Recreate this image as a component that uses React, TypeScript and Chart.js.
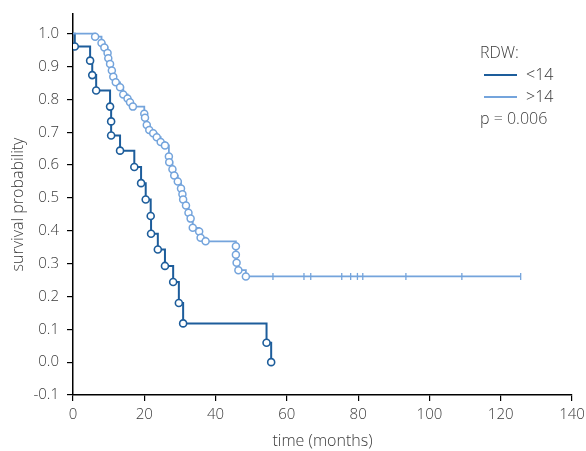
import React, { useEffect, useRef } from "react";
import { Chart, registerables } from "chart.js";
Chart.register(...registerables);

// RDW < 14 group (dark)
const lowTimes = [0, 0.5, 4.8, 5.4, 6.5, 10.4, 10.7, 10.7, 13.2, 17.2, 19.1, 20.4, 21.8, 21.9, 23.8, 25.8, 28.1, 29.7, 30.9, 54.3, 55.6];
const lowSurv = [1.0, 0.961, 0.918, 0.874, 0.827, 0.778, 0.733, 0.69, 0.644, 0.594, 0.545, 0.495, 0.445, 0.391, 0.343, 0.293, 0.244, 0.18, 0.118, 0.059, 0.0];

// RDW > 14 group (light)
const highTimes = [0, 6.2, 8.0, 8.8, 9.7, 9.9, 10.4, 10.9, 11.3, 12.0, 13.2, 14.1, 15.3, 16.0, 16.8,
  20.0, 20.2, 20.7, 21.4, 22.5, 23.5, 24.6, 25.8, 26.9, 27.0, 27.9, 28.4, 29.4, 30.3, 30.7, 30.9, 31.7, 32.4, 33.0, 33.6, 35.4, 35.8, 37.2,
  45.7, 45.7, 45.9, 46.4, 48.5, 125.6];
const highSurv = [1.0, 0.991, 0.972, 0.958, 0.941, 0.925, 0.908, 0.888, 0.869, 0.852, 0.837, 0.815, 0.803, 0.791, 0.778,
  0.756, 0.744, 0.722, 0.707, 0.697, 0.685, 0.67, 0.66, 0.626, 0.609, 0.587, 0.568, 0.55, 0.529, 0.511, 0.495, 0.477, 0.455, 0.437, 0.409, 0.398, 0.379, 0.368,
  0.353, 0.327, 0.303, 0.28, 0.261, 0.261];

// censored observations on the > 14 curve
const censorTimes = [56.1, 64.8, 66.7, 75.4, 77.9, 79.8, 81.3, 93.4, 109.1, 125.6];
const censorSurv = [0.261, 0.261, 0.261, 0.261, 0.261, 0.261, 0.261, 0.261, 0.261, 0.261];

const xTicks = [0, 20, 40, 60, 80, 100, 120, 140];
const yTicks = [-0.1, 0.0, 0.1, 0.2, 0.3, 0.4, 0.5, 0.6, 0.7, 0.8, 0.9, 1.0];

const legendTitle = "RDW:";
const legendLabels = ["<14", ">14"];
const pText = "p = 0.006";

const DARK = "#1d5d9b";
const LIGHT = "#74a4dc";
const TEXT = "#3a3a3a";
const FONT = "'Open Sans', sans-serif";
const WEIGHT = 300;

export default function App() {
  const ref = useRef<HTMLCanvasElement | null>(null);
  useEffect(() => {
    if (!ref.current) return;
    const lowData = lowTimes.map((t, i) => ({ x: t, y: lowSurv[i] }));
    const highData = highTimes.map((t, i) => ({ x: t, y: highSurv[i] }));
    const censData = censorTimes.map((t, i) => ({ x: t, y: censorSurv[i] }));
    const chart = new Chart(ref.current, {
      type: "scatter",
      data: {
        datasets: [
          {
            data: highData,
            showLine: true,
            stepped: "before",
            borderColor: LIGHT,
            borderWidth: 1.8,
            pointBackgroundColor: "#ffffff",
            pointBorderColor: LIGHT,
            pointBorderWidth: 1.5,
            pointRadius: highData.map((_, i) => (i === 0 || i === highData.length - 1 ? 0 : 3.5)),
          },
          {
            data: censData,
            showLine: false,
            pointStyle: "line",
            pointRotation: 90,
            pointRadius: 3.5,
            pointBorderWidth: 1.3,
            pointBorderColor: LIGHT,
            borderColor: LIGHT,
          },
          {
            data: lowData,
            showLine: true,
            stepped: "before",
            borderColor: DARK,
            borderWidth: 2,
            pointBackgroundColor: "#ffffff",
            pointBorderColor: DARK,
            pointBorderWidth: 1.6,
            pointRadius: lowData.map((_, i) => (i === 0 ? 0 : 3.5)),
          },
        ],
      },
      options: {
        animation: false,
        responsive: true,
        maintainAspectRatio: false,
        layout: { padding: { top: 14, right: 14, left: 0, bottom: 0 } },
        plugins: { legend: { display: false }, tooltip: { enabled: false } },
        scales: {
          x: {
            type: "linear",
            min: 0,
            max: 140,
            afterBuildTicks: (s: any) => {
              s.ticks = xTicks.map((v) => ({ value: v }));
            },
            afterFit: (s: any) => {
              s.height = 56;
              s.paddingLeft = 0;
              s.paddingRight = 0;
            },
            grid: { display: true, drawOnChartArea: false, drawTicks: true, tickLength: 6, color: "#000", lineWidth: 1.2 },
            border: { display: true, color: "#000", width: 1.5 },
            ticks: { color: TEXT, font: { family: FONT, size: 15, weight: WEIGHT }, padding: 5, maxRotation: 0 },
            title: { display: true, text: "time (months)", color: TEXT, font: { family: FONT, size: 16, weight: WEIGHT }, padding: { top: 0, bottom: 0 } },
          },
          y: {
            type: "linear",
            min: -0.1,
            max: 1.06,
            afterBuildTicks: (s: any) => {
              s.ticks = yTicks.map((v) => ({ value: v }));
            },
            afterFit: (s: any) => {
              s.width = 73;
              s.paddingTop = 0;
              s.paddingBottom = 0;
            },
            grid: { display: true, drawOnChartArea: false, drawTicks: true, tickLength: 6, color: "#000", lineWidth: 1.2 },
            border: { display: true, color: "#000", width: 1.5 },
            ticks: {
              color: TEXT,
              font: { family: FONT, size: 15, weight: WEIGHT },
              padding: 8,
              callback: (v: any) => Number(v).toFixed(1),
            },
            title: { display: true, text: "survival probability", color: TEXT, font: { family: FONT, size: 16, weight: WEIGHT }, padding: { top: 8.5, bottom: 0 } },
          },
        },
      },
    });
    return () => chart.destroy();
  }, []);

  const textStyle: React.CSSProperties = {
    position: "absolute",
    fontFamily: FONT,
    fontWeight: WEIGHT,
    fontSize: 16,
    color: TEXT,
    lineHeight: "18px",
    whiteSpace: "nowrap",
  };
  return (
    <div style={{ position: "fixed", left: 0, top: 0, width: 586, height: 451, background: "#fff" }}>
      <canvas ref={ref} />
      <div style={{ ...textStyle, left: 480, top: 43 }}>{legendTitle}</div>
      <div style={{ position: "absolute", left: 484, top: 74, width: 33, height: 2, background: DARK }} />
      <div style={{ ...textStyle, left: 526, top: 65 }}>{legendLabels[0]}</div>
      <div style={{ position: "absolute", left: 484, top: 96, width: 33, height: 2, background: LIGHT }} />
      <div style={{ ...textStyle, left: 526, top: 87 }}>{legendLabels[1]}</div>
      <div style={{ ...textStyle, left: 480, top: 109 }}>{pText}</div>
    </div>
  );
}
